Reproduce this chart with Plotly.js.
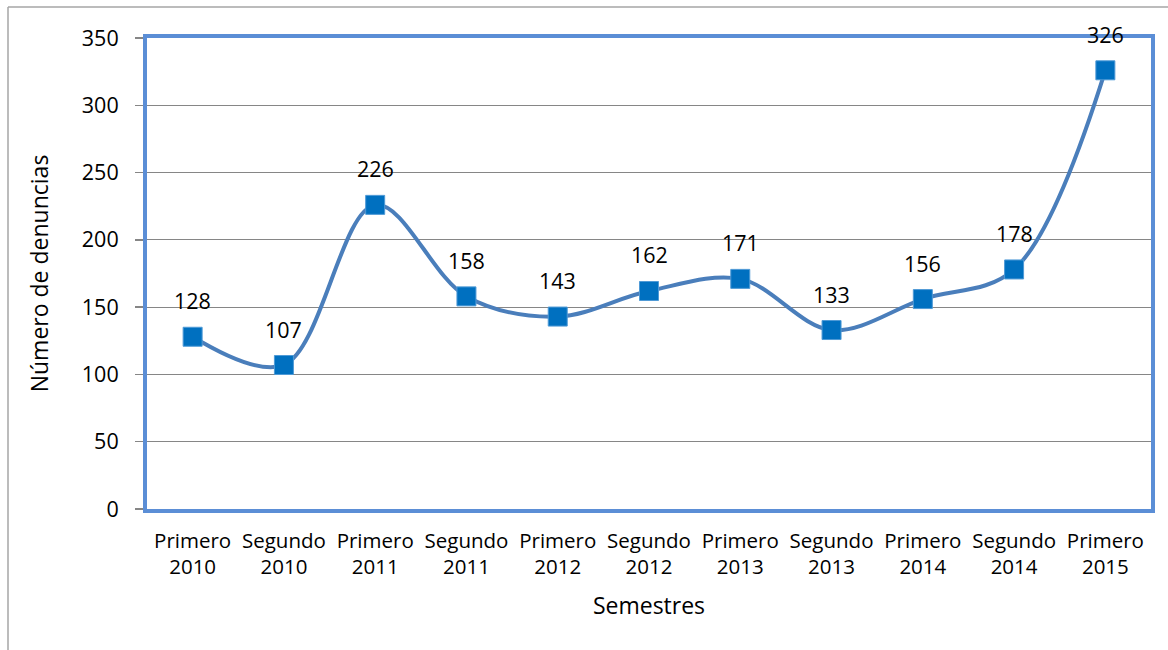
<!DOCTYPE html>
<html>
<head>
<meta charset="utf-8">
<script src="https://cdn.plot.ly/plotly-3.0.1.min.js"></script>
<style>html,body{margin:0;padding:0;background:#fff;}#chart{width:1168px;height:650px;}</style>
</head>
<body>
<div id="chart"></div>
<script>
const categories = ["Primero<br>2010","Segundo<br>2010","Primero<br>2011","Segundo<br>2011","Primero<br>2012","Segundo<br>2012","Primero<br>2013","Segundo<br>2013","Primero<br>2014","Segundo<br>2014","Primero<br>2015"];
const denuncias = [128,107,226,158,143,162,171,133,156,178,326];
const yTicks = [0,50,100,150,200,250,300,350];

const FONT = "Open Sans, Noto Sans, sans-serif";
const W = 1168, H = 650, L = 147, R = 17, T = 38, B = 141;
const pw = W - L - R, ph = H - T - B;
const px = v => (v - L) / pw;
const py = v => (H - B - v) / ph;

const trace = {
  x: categories,
  y: denuncias,
  type: 'scatter',
  mode: 'lines+markers',
  line: {color: '#4A7EBB', width: 4, shape: 'spline', smoothing: 1},
  marker: {symbol: 'square', size: 19, color: '#0070C0', line: {color: '#4F9AD6', width: 1}},
  cliponaxis: false,
  hoverinfo: 'x+y'
};

const annotations = denuncias.map((v, i) => ({
  x: categories[i], y: v, xref: 'x', yref: 'y',
  text: String(v), showarrow: false, yshift: 36, yanchor: 'middle',
  font: {family: FONT, size: 21.5, color: '#000'}
}));

const layout = {
  width: W, height: H,
  margin: {l: L, r: R, t: T, b: B},
  paper_bgcolor: '#fff', plot_bgcolor: '#fff',
  showlegend: false,
  font: {family: FONT, color: '#000'},
  xaxis: {
    type: 'category', range: [-0.5, 10.5],
    showgrid: false, zeroline: false,
    showline: true, mirror: true, linecolor: '#5B8ED6', linewidth: 4,
    ticks: '', ticklabelstandoff: 10,
    tickfont: {family: FONT, size: 20.5, color: '#000'},
    title: {text: 'Semestres', font: {family: FONT, size: 23, color: '#000'}, standoff: 20}
  },
  yaxis: {
    range: [0, 350], tickvals: yTicks, ticktext: yTicks.map(String),
    showgrid: true, gridcolor: '#868686', gridwidth: 1, zeroline: false,
    showline: true, mirror: true, linecolor: '#5B8ED6', linewidth: 4,
    ticks: 'outside', ticklen: 8, tickcolor: '#868686', tickwidth: 1.5,
    ticklabelstandoff: 12,
    tickfont: {family: FONT, size: 21.5, color: '#000'},
    title: {text: 'Número de denuncias', font: {family: FONT, size: 23, color: '#000'}, standoff: 28}
  },
  annotations: annotations,
  shapes: [
    {type: 'line', xref: 'paper', yref: 'paper', x0: px(8), x1: px(8), y0: py(7), y1: py(652), line: {color: '#A6A6A6', width: 1.5}, layer: 'below'},
    {type: 'line', xref: 'paper', yref: 'paper', x0: px(8), x1: px(1170), y0: py(7), y1: py(7), line: {color: '#A6A6A6', width: 1.5}, layer: 'below'}
  ]
};

Plotly.newPlot('chart', [trace], layout, {displayModeBar: false, staticPlot: true});
</script>
</body>
</html>
